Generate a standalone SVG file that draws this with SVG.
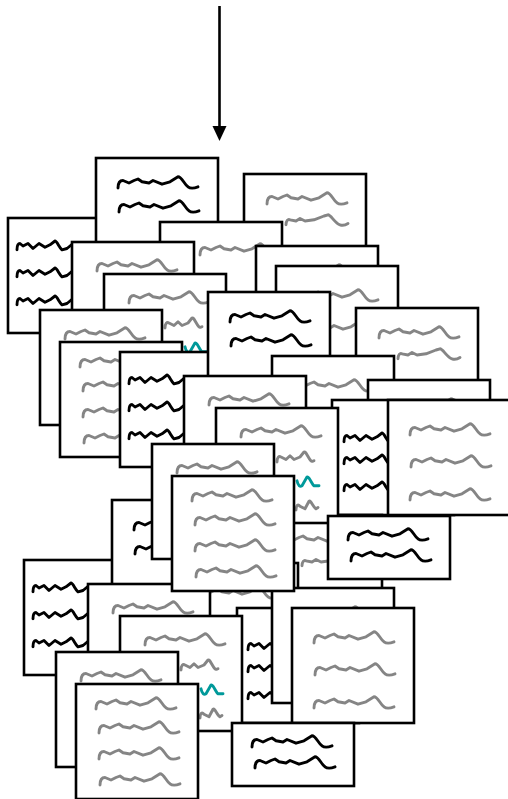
<svg xmlns="http://www.w3.org/2000/svg" width="508" height="799" viewBox="0 0 508 799">
<style>
.pg{fill:#fff;stroke:#000;stroke-width:2.6}
.s{fill:none;stroke-width:2.9;stroke-linecap:round;stroke-linejoin:round}
.k{stroke:#000}.g{stroke:#858585}.t{stroke:#00999a}
.conn{stroke:#000;stroke-width:2.6;fill:none}
</style>
<defs>
<path id="sq" d="M0,5 C0,0 2,-2.5 5,-2.5 L11,0 L16,-2.5 L20,-4 L24,-1.2 L31,0 L35,-2.5 L44,1.2 L52,-1.2 L60,-6.2 C64,-6.2 66,1.2 70,3.8 C73,6.2 77,5 80,3.8"/>
<path id="zig" d="M0,3.8 C0,0 1,-2.5 3,-2.5 L6,0 L11,-2.5 L16,2.5 L22,-2.5 L28,1.2 L33,-1.2 L38,-5 C40,-5 42,1.2 45,3.8 L50,2.5 L56,-2.5 L62,1.2 L68,-2.5 L74,2.5 L80,1.2"/>
<path id="med" d="M0,3.8 C0,0 2,-2.5 4,-1.2 L10,0 L14,-2.5 L19,0 L28,-1.2 L38,-5 L42,-6.2 C45,-6.2 49,2.5 54,3.8 C57,5 60,3.8 62,2.5"/>
<path id="short" d="M0,5 C0,0 2,-1.2 4,0 L9,2.5 L13,-1.2 L17,2.5 L23,0 L27,-5 C29,-6.2 31,1.2 34,3.8 C35,5 36,3.8 37,3.8"/>
<path id="teal" d="M0,-1.2 C1,3.8 3,5 5,3.8 L10,-5 C12,-6.2 15,2.5 17,3.8 L22,3.8"/>
<path id="tiny" d="M0,5 C0,0 2,-1.2 4,1.2 L9,3.8 L13,-3.8 C15,-5 17,2.5 20,3.8 L22,2.5"/>
<rect id="pg" class="pg" width="122" height="115"/>
<rect id="card" class="pg" width="122" height="63"/>
<g id="c2k"><use href="#sq" class="s k" x="22" y="25"/><use href="#sq" class="s k" x="23" y="49"/></g>
<g id="c2g"><use href="#sq" class="s g" x="23" y="25"/><use href="#med" class="s g" x="42" y="47"/></g>
<g id="c3k"><use href="#zig" class="s k" x="9" y="28"/><use href="#zig" class="s k" x="9" y="55"/><use href="#zig" class="s k" x="9" y="83"/></g>
<g id="c3g"><use href="#sq" class="s g" x="22" y="30"/><use href="#sq" class="s g" x="23" y="62"/><use href="#sq" class="s g" x="22" y="95"/></g>
<g id="c4g"><use href="#sq" class="s g" x="20" y="20"/><use href="#sq" class="s g" x="23" y="44"/><use href="#sq" class="s g" x="23" y="70"/><use href="#sq" class="s g" x="24" y="96"/></g>
<g id="cH"><use href="#sq" class="s g" x="25" y="24"/><use href="#short" class="s g" x="61" y="49"/><use href="#teal" class="s t" x="81" y="74"/><use href="#tiny" class="s g" x="80" y="97"/></g>
<g id="cS"><use href="#sq" class="s k" x="20" y="19"/><use href="#sq" class="s k" x="23" y="40"/></g>
</defs>
<rect width="508" height="799" fill="#fff"/>
<g id="connectors">
<line class="conn" x1="219.5" y1="6" x2="219.5" y2="128"/>
<path d="M212.5,126 L226.5,126 L219.5,141 Z" fill="#000"/>
</g>
<g id="page-c" transform="translate(8,218)"><use href="#pg"/><use href="#c3k"/></g>
<g id="page-a" transform="translate(96,158)"><use href="#pg"/><use href="#c2k"/></g>
<g id="page-b" transform="translate(244,174)"><use href="#pg"/><use href="#c2g"/></g>
<g id="page-d" transform="translate(160,222)"><use href="#pg"/><use href="#sq" class="s g" x="40" y="28"/></g>
<g id="page-e" transform="translate(72,242)"><use href="#pg"/><use href="#cH"/></g>
<g id="page-f" transform="translate(256,246)"><use href="#pg"/><use href="#c2g"/></g>
<g id="page-g" transform="translate(276,266)"><use href="#pg"/><use href="#c3g"/></g>
<g id="page-h" transform="translate(104,274)"><use href="#pg"/><use href="#cH"/></g>
<g id="page-j" transform="translate(40,310)"><use href="#pg"/><use href="#cH"/></g>
<g id="page-l" transform="translate(60,342)"><use href="#pg"/><use href="#c4g"/></g>
<g id="page-m" transform="translate(120,352)"><use href="#pg"/><use href="#c3k"/></g>
<g id="page-i" transform="translate(208,292)"><use href="#pg"/><use href="#c2k"/></g>
<g id="page-k" transform="translate(356,308)"><use href="#pg"/><use href="#c2g"/></g>
<g id="page-n" transform="translate(272,356)"><use href="#pg"/><use href="#c3g"/></g>
<g id="page-o" transform="translate(184,376)"><use href="#pg"/><use href="#cH"/></g>
<g id="page-p" transform="translate(368,380)"><use href="#pg"/><use href="#c2g"/></g>
<g id="page-q" transform="translate(332,400)"><use href="#pg"/><use href="#zig" class="s k" x="12" y="38"/><use href="#zig" class="s k" x="12" y="60"/><use href="#zig" class="s k" x="12" y="87"/></g>
<g id="page-r" transform="translate(388,400)"><use href="#pg"/><use href="#c3g"/></g>
<g id="page-ae" transform="translate(260,515)"><use href="#pg"/><use href="#c2g"/></g>
<g id="page-s" transform="translate(216,408)"><use href="#pg"/><use href="#cH"/></g>
<g id="page-w" transform="translate(328,516)"><use href="#card"/><use href="#cS"/></g>
<g id="page-x" transform="translate(24,560)"><use href="#pg"/><use href="#c3k"/></g>
<g id="page-v" transform="translate(112,500)"><use href="#pg"/><use href="#c2k"/></g>
<g id="page-t" transform="translate(152,444)"><use href="#pg"/><use href="#cH"/></g>
<g id="page-ag" transform="translate(176,563)"><use href="#pg"/><use href="#c3g"/></g>
<g id="page-y" transform="translate(88,584)"><use href="#pg"/><use href="#cH"/></g>
<g id="page-ac" transform="translate(237,608)"><use href="#pg"/><use href="#zig" class="s k" x="11" y="38"/><use href="#zig" class="s k" x="11" y="60"/><use href="#zig" class="s k" x="11" y="87"/></g>
<g id="page-z" transform="translate(120,616)"><use href="#pg"/><use href="#cH"/></g>
<g id="page-aa" transform="translate(56,652)"><use href="#pg"/><use href="#cH"/></g>
<g id="page-ab" transform="translate(76,684)"><use href="#pg"/><use href="#c4g"/></g>
<g id="page-af" transform="translate(272,588)"><use href="#pg"/><use href="#c2g"/></g>
<g id="page-u" transform="translate(172,476)"><use href="#pg"/><use href="#c4g"/></g>
<g id="page-ah" transform="translate(292,608)"><use href="#pg"/><use href="#c3g"/></g>
<g id="page-ad" transform="translate(232,723)"><use href="#card"/><use href="#cS"/></g>
</svg>
